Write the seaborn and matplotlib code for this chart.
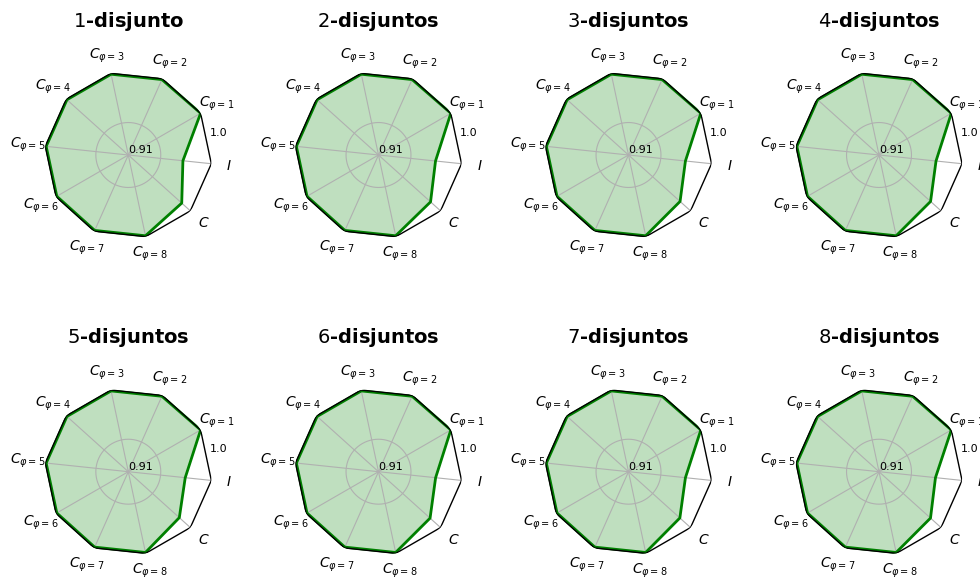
import numpy as np
import pandas as pd
import matplotlib
matplotlib.use("Agg")
import matplotlib.pyplot as plt
import seaborn as sns

sns.set_theme(style="white")
plt.rcParams.update({
    "font.family": ["DejaVu Sans"],
    "text.color": "black",
    "axes.labelcolor": "black",
    "xtick.color": "black",
    "ytick.color": "black",
    "mathtext.fontset": "dejavusans",
    "axes.axisbelow": "line",
})

# Axis labels of every radar, counter-clockwise starting at C_{phi=1}
categories = [r"$C_{\varphi=1}$", r"$C_{\varphi=2}$", r"$C_{\varphi=3}$",
              r"$C_{\varphi=4}$", r"$C_{\varphi=5}$", r"$C_{\varphi=6}$",
              r"$C_{\varphi=7}$", r"$C_{\varphi=8}$", r"$C$", r"$I$"]

# Number of disjuncts shown in each panel
disjuncts = [1, 2, 3, 4, 5, 6, 7, 8]

# Scores per category for each number of disjuncts
scores_k1 = [1.000, 0.999, 0.999, 0.999, 0.999, 0.999, 0.999, 0.999, 0.9875, 0.9692]
scores_k2 = [1.000, 0.999, 0.999, 0.999, 0.999, 0.999, 0.999, 0.999, 0.9855, 0.9718]
scores_k3 = [1.000, 0.999, 0.999, 0.999, 0.999, 0.999, 0.999, 0.999, 0.9848, 0.9717]
scores_k4 = [1.000, 0.999, 0.999, 0.999, 0.999, 0.999, 0.999, 0.999, 0.9848, 0.9718]
scores_k5 = [1.000, 0.999, 0.999, 0.999, 0.999, 0.999, 0.999, 0.999, 0.9840, 0.9717]
scores_k6 = [1.000, 0.999, 0.999, 0.999, 0.999, 0.999, 0.999, 0.999, 0.9848, 0.9719]
scores_k7 = [1.000, 0.999, 0.999, 0.999, 0.999, 0.999, 0.999, 0.999, 0.9845, 0.9717]
scores_k8 = [1.000, 0.999, 0.999, 0.999, 0.999, 0.999, 0.999, 0.999, 0.9847, 0.9712]

# Radial scale: labelled ends and one unlabelled guide circle
r_min, r_max = 0.91, 1.0
r_label_ticks = [0.91, 1.0]
r_tick_labels = ["0.91", "1.0"]
r_guide = 0.945

all_scores = [scores_k1, scores_k2, scores_k3, scores_k4,
              scores_k5, scores_k6, scores_k7, scores_k8]

GRID_COLOR = "#b0b0b0"
W, H = 980, 579
fig = plt.figure(figsize=(W / 100, H / 100), dpi=100)

n = len(categories)
theta = np.linspace(0, 2 * np.pi, n, endpoint=False)
# close the polygon one full turn later so no angle repeats
theta_closed = np.append(theta, theta[0] + 2 * np.pi)
ring_theta = np.linspace(0, 2 * np.pi, 361)

col_centers = [128.3, 378.5, 628.5, 879.0]
row_centers = [155.0, 471.7]
radius_px = 83.5

for idx, (k, scores) in enumerate(zip(disjuncts, all_scores)):
    cx = col_centers[idx % 4]
    cy = row_centers[idx // 4]
    rect = [(cx - radius_px) / W, 1 - (cy + radius_px) / H,
            2 * radius_px / W, 2 * radius_px / H]
    ax = fig.add_axes(rect, projection="polar")
    ax.set_theta_offset(np.pi / 6)
    ax.set_theta_direction(1)

    df = pd.DataFrame({"theta": theta_closed,
                       "score": np.append(scores, scores[0]),
                       "ref": np.full(n + 1, r_max)})

    # circular guide at an intermediate radius
    ax.plot(ring_theta, np.full_like(ring_theta, r_guide),
            color=GRID_COLOR, linewidth=0.8, zorder=1.5)

    ax.fill(df["theta"], df["score"], color="green", alpha=0.25, linewidth=0, zorder=1)
    sns.lineplot(data=df, x="theta", y="score", ax=ax, sort=False, estimator=None,
                 color="green", linewidth=2, zorder=3)
    sns.lineplot(data=df, x="theta", y="ref", ax=ax, sort=False, estimator=None,
                 color="black", linewidth=1, zorder=4)

    ax.set_xlim(0, 2 * np.pi)
    ax.set_ylim(r_min, r_max)
    ax.set_xticks(theta)
    ax.set_xticklabels(categories, fontsize=10)

    ax.set_yticks(r_label_ticks)
    ax.set_yticklabels(r_tick_labels, fontsize=8)
    ax.set_rlabel_position(-18)
    ax.tick_params(axis="x", pad=6, length=0)
    ax.tick_params(axis="y", which="both", length=0)
    ax.xaxis.grid(True, color=GRID_COLOR, linewidth=0.8)
    ax.yaxis.grid(False)
    ax.spines["polar"].set_visible(False)
    ax.set_xlabel("")
    ax.set_ylabel("")

    suffix = "disjunto" if k == 1 else "disjuntos"
    ax.set_title(rf"${k}$-{suffix}", fontsize=14, fontweight="bold",
                 y=1.268, pad=0, va="baseline")

fig.savefig("out.png", dpi=100)
